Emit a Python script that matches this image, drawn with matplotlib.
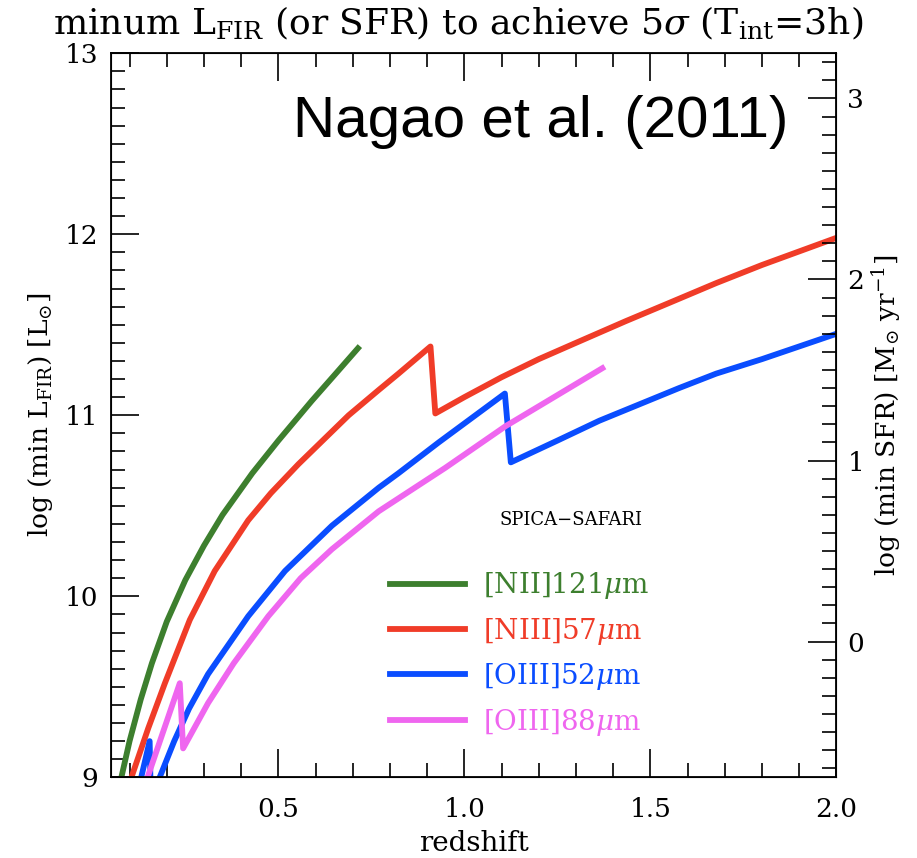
'''minimum L_FIR (or SFR) needed for a 5 sigma line detection, SPICA-SAFARI'''

import numpy as np
import matplotlib
matplotlib.use('Agg')
import matplotlib.pyplot as plt

plt.rcParams['font.family'] = 'DejaVu Serif'
plt.rcParams['mathtext.fontset'] = 'dejavuserif'

# redshift / log(min L_FIR)
z_nii121 = [0.070, 0.078, 0.10, 0.13, 0.16, 0.20, 0.25, 0.30, 0.35, 0.43, 0.50, 0.59, 0.65, 0.714]
L_nii121 = [8.93, 9.00, 9.20, 9.43, 9.63, 9.86, 10.09, 10.28, 10.45, 10.68, 10.86, 11.08, 11.22, 11.37]

z_niii57 = [0.095, 0.105, 0.15, 0.195, 0.262, 0.329, 0.419, 0.48, 0.554, 0.689, 0.77, 0.823, 0.909,
            0.922, 1.0, 1.1, 1.2, 1.3, 1.434, 1.55, 1.677, 1.8, 2.0]
L_niii57 = [8.93, 9.00, 9.27, 9.52, 9.87, 10.14, 10.42, 10.57, 10.73, 11.00, 11.14, 11.23, 11.38,
            11.01, 11.10, 11.21, 11.31, 11.40, 11.52, 11.62, 11.73, 11.83, 11.98]

z_oiii52 = [0.12, 0.154, 0.158, 0.181, 0.22, 0.26, 0.311, 0.419, 0.518, 0.644, 0.77, 0.823,
            0.931, 1.109, 1.125, 1.25, 1.363, 1.47, 1.577, 1.677, 1.8, 2.0]
L_oiii52 = [8.90, 9.20, 8.80, 9.00, 9.20, 9.38, 9.57, 9.89, 10.14, 10.39, 10.60, 10.68,
            10.85, 11.12, 10.74, 10.86, 10.97, 11.06, 11.15, 11.23, 11.31, 11.45]

z_oiii88 = [0.14, 0.235, 0.244, 0.311, 0.38, 0.473, 0.56, 0.644, 0.77, 0.949, 1.111, 1.371]
L_oiii88 = [8.95, 9.52, 9.16, 9.41, 9.63, 9.89, 10.10, 10.26, 10.47, 10.71, 10.94, 11.26]

labels = [r'[NII]121$\mu$m', r'[NIII]57$\mu$m', r'[OIII]52$\mu$m', r'[OIII]88$\mu$m']
colors = ['#3d7f2e', '#f03c28', '#0a4dff', '#ef66ef']

sfr_offset = 9.75  # log SFR = log L_FIR - 9.75

fig = plt.figure(figsize=(9.17, 8.58), dpi=100)
ax = fig.add_axes([0.121, 0.094, 0.791, 0.844])

for zz, LL, label, color in zip([z_nii121, z_niii57, z_oiii52, z_oiii88],
                                [L_nii121, L_niii57, L_oiii52, L_oiii88], labels, colors):
	ax.plot(zz, LL, color=color, lw=4.2, label=label, solid_joinstyle='round')

ax.set_xlim(0.05, 2.0)
ax.set_ylim(9, 13)
ax.set_xticks([0.5, 1.0, 1.5, 2.0])
ax.set_xticklabels(['0.5', '1.0', '1.5', '2.0'])
ax.set_xticks(np.arange(0.1, 2.0, 0.1), minor=True)
ax.set_yticks([9, 10, 11, 12, 13])
ax.set_yticks(np.arange(9, 13, 0.1), minor=True)
ax.tick_params(which='both', direction='in', top=True, right=False, labelsize=19, width=1.2)
ax.tick_params(which='major', length=20, pad=9)
ax.tick_params(which='minor', length=10)
ax.tick_params(axis='x', which='major', pad=14)
for s in ax.spines.values():
	s.set_linewidth(1.3)

ax.set_xlabel('redshift', fontsize=20, labelpad=6)
ax.set_ylabel(r'log (min L$_{\rm FIR}$) [L$_{\odot}$]', fontsize=19, labelpad=7)

ax2 = ax.twinx()
ax2.set_ylim(9 - sfr_offset, 13 - sfr_offset)
ax2.set_yticks([0, 1, 2, 3])
ax2.set_yticks(np.arange(-0.7, 3.25, 0.1), minor=True)
ax2.tick_params(which='both', direction='in', labelsize=19, width=1.2)
ax2.tick_params(which='major', length=20, pad=8)
ax2.tick_params(which='minor', length=10)
ax2.set_ylabel(r'log (min SFR) [M$_{\odot}$ yr$^{-1}$]', fontsize=19, labelpad=4)

fig.text(0.5, 0.974, r'minum L$_{\rm FIR}$ (or SFR) to achieve 5$\sigma$ (T$_{\rm int}$=3h)',
         ha='center', va='center', fontsize=26)

ax.text(0.592, 0.905, 'Nagao et al. (2011)', transform=ax.transAxes, ha='center', va='center',
        fontsize=42, family='Liberation Sans')
ax.text(0.634, 0.355, 'SPICA\u2212SAFARI', transform=ax.transAxes, ha='center', va='center',
        fontsize=13)

ax.legend(loc='upper left', bbox_to_anchor=(0.385, 0.286), frameon=False, fontsize=20,
          handlelength=2.7, handletextpad=0.65, labelspacing=0.52, borderpad=0,
          borderaxespad=0, labelcolor='linecolor')

plt.savefig('out.png', dpi=100)
